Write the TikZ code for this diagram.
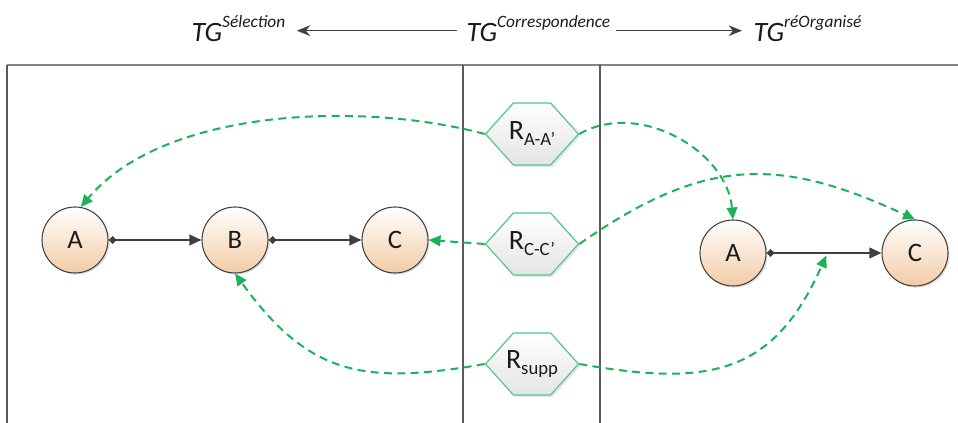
\documentclass[tikz,border=0pt]{standalone}
\usepackage{fontspec}
\setmainfont{Carlito}
\usetikzlibrary{arrows.meta,shadows,shapes.symbols}
\definecolor{TGInk}{HTML}{1B1B1B}
\definecolor{TGGray}{HTML}{404040}
\definecolor{TGFrame}{HTML}{5A5A5A}
\definecolor{TGPeach}{HTML}{F3CBA6}
\definecolor{TGGreen}{HTML}{1DB25A}
\definecolor{TGLightGreen}{HTML}{55C787}
\definecolor{TGLightGray}{HTML}{E4E4E4}
\newcommand{\tgsup}[1]{\raisebox{1.1ex}{\fontsize{13}{14}\selectfont #1}}
\newcommand{\tgsub}[1]{\raisebox{-.45ex}{\fontsize{14}{15}\selectfont #1}}
\tikzset{
  vertex/.style={
    circle,
    draw=TGGray,
    line width=.8pt,
    minimum size=49.5pt,
    inner sep=0pt,
    top color=white,
    bottom color=TGPeach,
    text=TGInk,
    font=\fontsize{20}{22}\selectfont,
    drop shadow={opacity=.25,shadow xshift=1.2pt,shadow yshift=-1.2pt}
  },
  relation/.style={
    signal,
    signal to=east and west,
    signal pointer angle=96,
    draw=TGLightGreen,
    line width=.9pt,
    minimum width=69.75pt,
    minimum height=46.5pt,
    inner xsep=-7pt,
    inner ysep=0pt,
    top color=white,
    bottom color=TGLightGray,
    text=TGInk,
    font=\fontsize{21}{23}\selectfont,
    drop shadow={opacity=.2,shadow xshift=1.5pt,shadow yshift=-1.5pt}
  },
  flowedge/.style={{Diamond[length=6pt,width=6pt]}-{Triangle[length=9pt,width=8pt]},draw=TGGray,line width=1.3pt},
  matchlink/.style={-{Triangle[length=9pt,width=8pt]},draw=TGGreen,line width=1.5pt,dash pattern=on 6pt off 4pt},
  header/.style={font=\fontsize{21}{24}\selectfont\itshape,text=TGInk,inner sep=1pt,anchor=base west},
  headarrow/.style={-{Stealth[length=10pt,width=8pt]},draw=TGGray,line width=1.1pt},
  frame/.style={draw=TGFrame,line width=1pt}
}

\begin{document}
\begin{tikzpicture}[x=.75pt,y=.75pt]
  \useasboundingbox (0,0) rectangle (958,-423);

  % Header: the three graphs.
  \node[header] (tgs) at (190,-42) {TG\tgsup{Sélection}};
  \node[header] (tgc) at (465,-42) {TG\tgsup{Correspondence}};
  \node[header] (tgr) at (752,-42) {TG\tgsup{réOrganisé}};
  \draw[headarrow] ([shift={(-8,-2)}]tgc.west) -- ([shift={(10,-2)}]tgc.west -| tgs.east);
  \draw[headarrow] ([shift={(4,-2)}]tgc.east) -- ([shift={(-10,-2)}]tgc.east -| tgr.west);

  % Frame with the three columns.
  \draw[frame,line width=1.6pt,draw=TGFrame!75] (7,-65) -- (958,-65);
  \draw[frame] (7,-65) -- (7,-423);
  \draw[frame] (463,-65) -- (463,-423);
  \draw[frame] (600,-65) -- (600,-423);

  % Left graph.
  \node[vertex] (a1) at (75,-240)  {A};
  \node[vertex] (b1) at (235,-240) {B};
  \node[vertex] (c1) at (395,-240) {C};
  \draw[flowedge] (a1) -- (b1);
  \draw[flowedge] (b1) -- (c1);

  % Right graph.
  \node[vertex] (a2) at (733,-253) {A};
  \node[vertex] (c2) at (915,-253) {C};
  \draw[flowedge] (a2) -- (c2);
  \path (a2) -- (c2) coordinate[pos=.53] (mac);

  % Correspondence relations.
  \node[relation] (raa)   at (532,-134) {R\tgsub{A-A’}};
  \node[relation] (rcc)   at (532,-244) {R\tgsub{C-C’}};
  \node[relation] (rsupp) at (532,-364) {R\tgsub{supp}};

  \draw[matchlink] (raa.west) to[out=165,in=50,looseness=.8] (a1.80);
  \draw[matchlink] (raa.east) to[out=30,in=95] (a2.north);
  \draw[matchlink] (rcc.west) -- (c1.east);
  \draw[matchlink] (rcc.east) to[out=35,in=155,looseness=1.15] (c2.north);
  \draw[matchlink] (rsupp.west) to[out=190,in=-54,looseness=1.2] (b1.south);
  \draw[matchlink,shorten >=2pt] (rsupp.east) to[out=-10,in=-114,looseness=1.25] (mac);
\end{tikzpicture}
\end{document}
